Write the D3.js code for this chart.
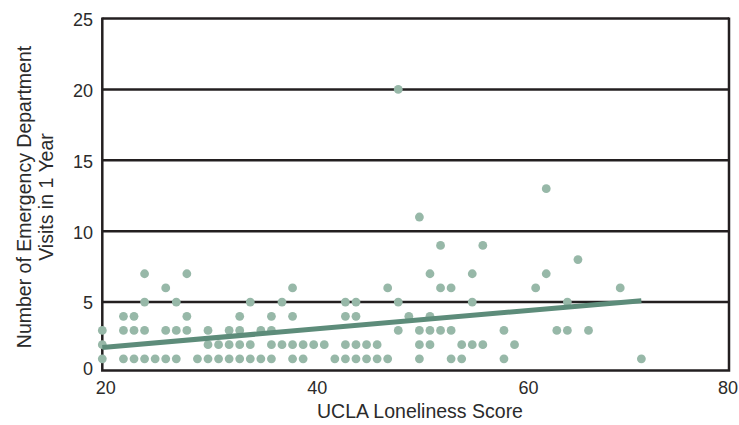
<!DOCTYPE html>
<html>
<head>
<meta charset="utf-8">
<script src="https://cdn.jsdelivr.net/npm/d3@7"></script>
<style>
  body { margin: 0; background: #fff; }
  text { font-family: "Liberation Sans", Arial, sans-serif; fill: #2b2b2b; }
</style>
</head>
<body>
<div id="chart"></div>
<script>
// UCLA loneliness scores, grouped by number of ED visits
let scoresAt1 = [20, 22, 23, 24, 25, 26, 27, 29, 30, 31, 32, 33, 34, 35, 36, 38, 39, 42, 43, 44, 45, 46, 47, 50, 53, 54, 58, 71]
let scoresAt2 = [20, 30, 31, 32, 33, 34, 36, 37, 38, 39, 40, 41, 43, 44, 45, 46, 50, 51, 54, 55, 56, 59]
let scoresAt3 = [20, 22, 23, 24, 26, 27, 28, 30, 32, 33, 35, 36, 48, 50, 51, 52, 53, 58, 63, 64, 66]
let scoresAt4 = [22, 23, 28, 33, 36, 38, 43, 44, 49, 51]
let scoresAt5 = [24, 27, 34, 37, 43, 44, 48, 55, 64]
let scoresAt6 = [26, 38, 47, 52, 53, 61, 69]
let scoresAt7 = [24, 28, 51, 55, 62]
let scoresAt8 = [65]
let scoresAt9 = [52, 56]
let scoresAt11 = [50]
let scoresAt13 = [62]
let scoresAt20 = [48]

// fitted line end points
let fitScore = [20, 71]
let fitVisits = [1.8, 5.1]

let xTicks = [20, 40, 60, 80]
let yTicks = [0, 5, 10, 15, 20, 25]

let groups = [
  [1, scoresAt1], [2, scoresAt2], [3, scoresAt3], [4, scoresAt4], [5, scoresAt5],
  [6, scoresAt6], [7, scoresAt7], [8, scoresAt8], [9, scoresAt9], [11, scoresAt11],
  [13, scoresAt13], [20, scoresAt20]
]
let points = []
groups.forEach(g => g[1].forEach(s => points.push({ score: s, visits: g[0] })))

let dims = { width: 739, height: 425 }
let plot = { left: 102.3, right: 729, top: 18.5, bottom: 370.5 }

const svg = d3.select("#chart")
  .append("svg")
  .attr("width", dims.width)
  .attr("height", dims.height)

let x = d3.scaleLinear()
  .domain([20, 80])
  .range([plot.left, 736.5])

let y = d3.scaleLinear()
  .domain([0, 25])
  .range([373, 18.5])

// horizontal grid lines
svg.append("g")
  .selectAll("line")
  .data(yTicks.filter(d => d > 0))
  .join("line")
  .attr("x1", plot.left)
  .attr("x2", plot.right)
  .attr("y1", d => y(d))
  .attr("y2", d => y(d))
  .attr("stroke", "#231f20")
  .attr("stroke-width", 2.5)

// frame: left, right, bottom
svg.append("path")
  .attr("d", `M${plot.left},${plot.top - 1}V${plot.bottom}H${plot.right}V${plot.top - 1}`)
  .attr("fill", "none")
  .attr("stroke", "#231f20")
  .attr("stroke-width", 2.5)

// y tick labels
svg.append("g")
  .selectAll("text")
  .data(yTicks)
  .join("text")
  .attr("x", 93)
  .attr("y", d => d === 0 ? y(d) - 4 : y(d) + 1)
  .attr("dy", "0.35em")
  .attr("text-anchor", "end")
  .style("font-size", "18px")
  .text(d => d)

// x tick labels
svg.append("g")
  .selectAll("text")
  .data(xTicks)
  .join("text")
  .attr("x", d => d === 80 ? 738 : x(d) + 3.5)
  .attr("y", 394)
  .attr("text-anchor", d => d === 80 ? "end" : "middle")
  .style("font-size", "18px")
  .text(d => d)

// points
svg.append("g")
  .selectAll("circle")
  .data(points)
  .join("circle")
  .attr("cx", d => x(d.score))
  .attr("cy", d => y(d.visits))
  .attr("r", 4.4)
  .attr("fill", "#97b8a8")

// fitted line
svg.append("line")
  .attr("x1", x(fitScore[0]))
  .attr("x2", x(fitScore[1]))
  .attr("y1", y(fitVisits[0]))
  .attr("y2", y(fitVisits[1]))
  .attr("stroke", "#5d8c7a")
  .attr("stroke-width", 5)

// axis titles
svg.append("text")
  .attr("x", 420)
  .attr("y", 418)
  .attr("text-anchor", "middle")
  .style("font-size", "19.5px")
  .text("UCLA Loneliness Score")

let yTitle = svg.append("text")
  .attr("transform", "translate(0,197) rotate(-90)")
  .attr("text-anchor", "middle")
  .style("font-size", "19.5px")
yTitle.append("tspan").attr("x", 0).attr("y", 31).text("Number of Emergency Department")
yTitle.append("tspan").attr("x", 0).attr("y", 53).text("Visits in 1 Year")
</script>
</body>
</html>
